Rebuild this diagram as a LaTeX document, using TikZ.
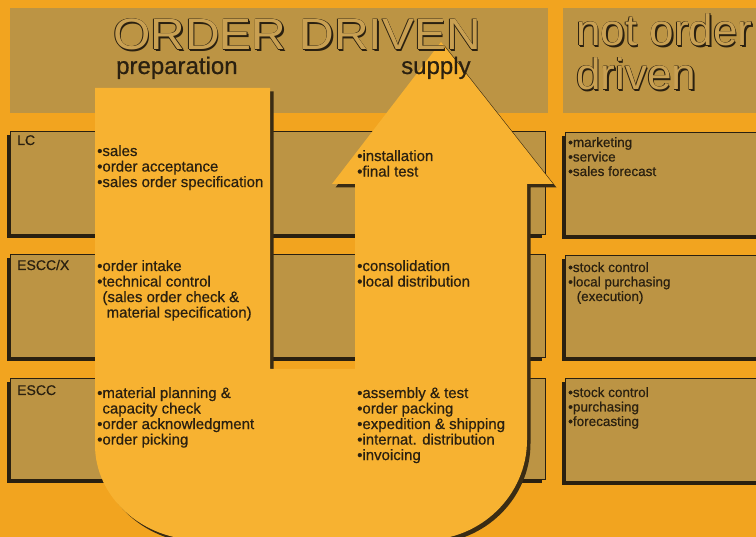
\documentclass[tikz,border=0pt]{standalone}
\usepackage{fontspec}
\setmainfont[FakeBold=0.6]{Liberation Sans}
\newfontfamily\titlefont[FakeStretch=1.09]{Liberation Sans}
\newfontfamily\sidefont{Liberation Sans}

\definecolor{paper}{HTML}{F2A41F}
\definecolor{flow}{HTML}{F7B231}
\definecolor{panel}{HTML}{BC9444}
\definecolor{letterfill}{HTML}{C9A052}
\definecolor{ink}{HTML}{2A2010}
\definecolor{shade}{HTML}{3A2C14}

% stacked lines of text, aligned at the first baseline
\newcommand\lines[1]{\begin{tabular}[t]{@{}l@{}}#1\end{tabular}}
\newcommand\ind{\phantom{\textbullet}}
% thin outlined letters over a dark drop shadow
\newcommand\shadowed[1]{%
  \rlap{\kern1.6pt\raisebox{-1.6pt}{\textcolor{ink}{#1}}}%
  \rlap{\kern0.55pt\textcolor{ink}{#1}}%
  \rlap{\kern-0.55pt\textcolor{ink}{#1}}%
  \rlap{\raisebox{0.55pt}{\textcolor{ink}{#1}}}%
  \rlap{\raisebox{-0.55pt}{\textcolor{ink}{#1}}}%
  \textcolor{letterfill}{#1}}

\tikzset{
  headpanel/.style={fill=panel},
  rowpanel/.style={fill=panel, draw=ink, line width=1pt},
  panelshadow/.style={fill=ink},
  flowshape/.style={fill=flow},
  flowshadow/.style={fill=shade},
  bigtitle/.style={anchor=base west, inner sep=0pt,
    font=\titlefont\fontsize{44}{44}\selectfont},
  sidetitle/.style={anchor=base west, inner sep=0pt,
    font=\sidefont\fontsize{44}{44}\selectfont},
  phase/.style={anchor=base west, inner sep=0pt, text=ink,
    font=\fontsize{24}{24}\selectfont},
  rowlabel/.style={anchor=base west, inner sep=0pt, text=ink,
    font=\fontsize{14}{14}\selectfont},
  task/.style={anchor=base west, inner sep=0pt, text=ink,
    font=\fontsize{15}{15.5}\selectfont},
  sidetask/.style={anchor=base west, inner sep=0pt, text=ink,
    font=\fontsize{13.5}{14.5}\selectfont},
}

\begin{document}
\begin{tikzpicture}[x=1pt, y=-1pt]
\useasboundingbox (0,0) rectangle (756,537);
\fill[paper] (0,0) rectangle (756,537);

% header panels
\fill[headpanel] (10,8) rectangle (548,113);
\fill[headpanel] (563,8) rectangle (760,113);

% row panels, order driven part
\foreach \top/\bot in {132/235, 255/358, 379/480}{
  \fill[panelshadow] (7,\top+3) rectangle (542,\bot+3);
  \draw[rowpanel] (10,\top) rectangle (545,\bot);
}
% row panels, not order driven part
\foreach \top/\bot in {133/236, 256/358, 379/482}{
  \fill[panelshadow] (562,\top+3) rectangle (760,\bot+3);
  \draw[rowpanel] (565,\top) rectangle (762,\bot);
}

% the U-shaped flow arrow: preparation down, supply up
\def\flowpath{(95,88) -- (270,88) -- (270,369) -- (355,369) -- (355,184)
  -- (332,184) -- (441,42) -- (553,184) -- (527,184) -- (527,440)
  .. controls (527,495) and (481,540) .. (425,540) -- (200,540)
  .. controls (142,540) and (95,497) .. (95,445) -- cycle}
\begin{scope}[shift={(3.5,3.5)}]
  \fill[flowshadow] \flowpath;
\end{scope}
\fill[flowshape] \flowpath;

% titles
\node[bigtitle] (od) at (113,50) {\shadowed{ORDER DRIVEN}};
\node[sidetitle] (nod1) at (576,46) {\shadowed{not order}};
\node[sidetitle] (nod2) at (576,90) {\shadowed{driven}};
\node[phase] (prep) at (116,74) {preparation};
\node[phase] (supp) at (401,74) {supply};

% row labels
\node[rowlabel] (lc) at (17,145) {LC};
\node[rowlabel] (esccx) at (17,270) {ESCC/X};
\node[rowlabel] (escc) at (17,395) {ESCC};

% preparation tasks
\node[task] (p1) at (97,156) {\lines{\textbullet sales\\
  \textbullet order acceptance\\ \textbullet sales order specification}};
\node[task] (p2) at (97,271) {\lines{\textbullet order intake\\
  \textbullet technical control\\ \ind(sales order check \&\\
  \ind\ material specification)}};
\node[task] (p3) at (97,398) {\lines{\textbullet material planning \&\\
  \ind capacity check\\ \textbullet order acknowledgment\\
  \textbullet order picking}};

% supply tasks
\node[task] (s1) at (357,161) {\lines{\textbullet installation\\
  \textbullet final test}};
\node[task] (s2) at (357,271) {\lines{\textbullet consolidation\\
  \textbullet local distribution}};
\node[task] (s3) at (357,398) {\lines{\textbullet assembly \& test\\
  \textbullet order packing\\ \textbullet expedition \& shipping\\
  \textbullet internat. distribution\\ \textbullet invoicing}};

% not order driven tasks
\node[sidetask] (n1) at (568,147) {\lines{\textbullet marketing\\
  \textbullet service\\ \textbullet sales forecast}};
\node[sidetask] (n2) at (568,272) {\lines{\textbullet stock control\\
  \textbullet local purchasing\\ \ind\ (execution)}};
\node[sidetask] (n3) at (568,397) {\lines{\textbullet stock control\\
  \textbullet purchasing\\ \textbullet forecasting}};
\end{tikzpicture}
\end{document}
